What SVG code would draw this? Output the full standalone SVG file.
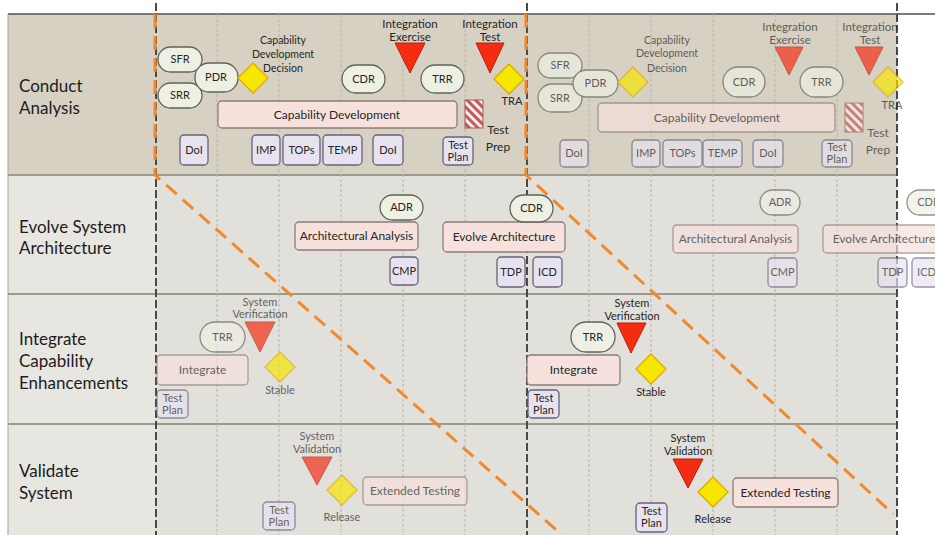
<svg xmlns="http://www.w3.org/2000/svg" width="935" height="535" viewBox="0 0 935 535">
<style>
text{font-family:Lato,"Open Sans","Liberation Sans",sans-serif;fill:#262626;text-anchor:middle}
.title{font-size:17px;text-anchor:start;fill:#1c1c1c}
.lbl{font-size:11px}
.sm{font-size:10.5px}
.md{font-size:12px}
.hd{font-size:11.5px}
.pill{fill:#eef0e3;stroke:#5e6457;stroke-width:1.3}
.box{fill:#f6e1dd;stroke:#8e7b77;stroke-width:1.3}
.doc{fill:#e6e2ef;stroke:#67637a;stroke-width:1.3}
.tri{fill:#f32c12;stroke:#b5200c;stroke-width:1}
.dia{fill:#f7e600;stroke:#e3a800;stroke-width:1.3}
.grid{stroke:#b8b4aa;stroke-width:1;stroke-dasharray:3 2}
.vdash{stroke:#4a4a40;stroke-width:2;stroke-dasharray:8 3}
.lane{stroke:#9c998f;stroke-width:2}
.orange{fill:none;stroke:#f0892e;stroke-width:3;stroke-dasharray:14 8}
.faded{opacity:0.68}
</style>
<defs>
<pattern id="hatch" width="6" height="6" patternUnits="userSpaceOnUse" patternTransform="rotate(-45)">
<rect width="6" height="6" fill="#fbeeee"/><rect width="3" height="6" fill="#c45a58"/>
</pattern>
</defs>
<rect width="935" height="535" fill="#ffffff"/>
<g id="lanes">
<rect x="8" y="14" width="889" height="161" fill="#d7d1c3"/>
<rect x="8" y="175" width="147" height="360" fill="#e8e6e1"/>
<rect x="155" y="175" width="742" height="360" fill="#e2e0da"/>
<line x1="8" y1="14" x2="8" y2="535" stroke="#a6a398" stroke-width="1"/>
<line x1="8" y1="14" x2="935" y2="14" stroke="#505050" stroke-width="1.5"/>
<line class="lane" x1="8" y1="175" x2="897" y2="175"/>
<line class="lane" x1="8" y1="294" x2="897" y2="294"/>
<line class="lane" x1="8" y1="424" x2="897" y2="424"/>
<g class="grid-lines">
<line class="grid" x1="217" y1="14" x2="217" y2="535"/>
<line class="grid" x1="279" y1="14" x2="279" y2="535"/>
<line class="grid" x1="341" y1="14" x2="341" y2="535"/>
<line class="grid" x1="403" y1="14" x2="403" y2="535"/>
<line class="grid" x1="465" y1="14" x2="465" y2="535"/>
<line class="grid" x1="589" y1="14" x2="589" y2="535"/>
<line class="grid" x1="651" y1="14" x2="651" y2="535"/>
<line class="grid" x1="713" y1="14" x2="713" y2="535"/>
<line class="grid" x1="775" y1="14" x2="775" y2="535"/>
<line class="grid" x1="837" y1="14" x2="837" y2="535"/>
</g>
<line class="vdash" x1="156" y1="3" x2="156" y2="535"/>
<line class="vdash" x1="527" y1="3" x2="527" y2="535"/>
<line class="vdash" x1="897" y1="3" x2="897" y2="535"/>
<text class="title" x="19" y="92">Conduct</text>
<text class="title" x="19" y="114">Analysis</text>
<text class="title" x="19" y="233">Evolve System</text>
<text class="title" x="19" y="254">Architecture</text>
<text class="title" x="19" y="345">Integrate</text>
<text class="title" x="19" y="367">Capability</text>
<text class="title" x="19" y="389">Enhancements</text>
<text class="title" x="19" y="477">Validate</text>
<text class="title" x="19" y="499">System</text>
</g>
<g id="connectors">
<path class="orange" d="M155,14 V175 L562,535"/>
<path class="orange" d="M526,14 V175 L893,514"/>
</g>
<g id="lane1-block1">
<g id="sfr1"><rect class="pill" x="158" y="47" width="44" height="25" rx="12.5"/><text class="lbl" x="180" y="63">SFR</text></g>
<g id="srr1"><rect class="pill" x="158" y="83" width="44" height="25" rx="12.5"/><text class="lbl" x="180" y="99">SRR</text></g>
<g id="pdr1"><rect class="pill" x="195" y="63" width="43" height="29" rx="14"/><text class="lbl" x="216" y="81">PDR</text></g>
<g id="cdd1"><polygon class="dia" points="253,63 268,78 253,93 238,78"/>
<text class="sm" x="283" y="44">Capability</text><text class="sm" x="283" y="58">Development</text><text class="sm" x="283" y="72">Decision</text></g>
<g id="capdev1"><rect class="box" x="218" y="101" width="239" height="27" rx="4"/><text class="md" x="337" y="119">Capability Development</text></g>
<g id="doi1a"><rect class="doc" x="180" y="135" width="28" height="30" rx="4"/><text class="lbl" x="194" y="154">DoI</text></g>
<g id="imp1"><rect class="doc" x="252" y="135" width="28" height="30" rx="4"/><text class="lbl" x="266" y="154">IMP</text></g>
<g id="tops1"><rect class="doc" x="283" y="135" width="37" height="30" rx="4"/><text class="lbl" x="301.5" y="154">TOPs</text></g>
<g id="temp1"><rect class="doc" x="323" y="135" width="39" height="30" rx="4"/><text class="lbl" x="342.5" y="154">TEMP</text></g>
<g id="doi1b"><rect class="doc" x="373" y="135" width="30" height="30" rx="4"/><text class="lbl" x="388" y="154">DoI</text></g>
<g id="testplan1"><rect class="doc" x="443" y="137" width="30" height="28" rx="4"/><text class="lbl" x="458" y="149">Test</text><text class="lbl" x="458" y="161">Plan</text></g>
<g id="cdr1"><rect class="pill" x="342" y="65" width="43" height="28" rx="14"/><text class="lbl" x="363.5" y="83">CDR</text></g>
<g id="ie1"><text class="hd" x="410" y="28">Integration</text><text class="hd" x="410" y="41">Exercise</text><polygon class="tri" points="395,43 425,43 410,73"/></g>
<g id="trr1"><rect class="pill" x="421" y="65" width="43" height="28" rx="14"/><text class="lbl" x="442.5" y="83">TRR</text></g>
<g id="it1"><text class="hd" x="490" y="28">Integration</text><text class="hd" x="490" y="41">Test</text><polygon class="tri" points="476,43 504,43 490,73"/></g>
<g id="tra1"><polygon class="dia" points="509,64 524,79 509,94 494,79"/><text class="lbl" x="512" y="105">TRA</text></g>
<g id="prep1"><rect x="465" y="100" width="18" height="28" fill="url(#hatch)" stroke="#a85a58" stroke-width="1"/><text class="md" x="498" y="134">Test</text><text class="md" x="498" y="151">Prep</text></g>
</g>
<g id="lane1-block2" class="faded">
<g id="sfr2"><rect class="pill" x="538" y="53" width="44" height="25" rx="12.5"/><text class="lbl" x="560" y="69">SFR</text></g>
<g id="srr2"><rect class="pill" x="538" y="84" width="44" height="28" rx="14"/><text class="lbl" x="560" y="102">SRR</text></g>
<g id="pdr2"><rect class="pill" x="573" y="70" width="45" height="27" rx="13.5"/><text class="lbl" x="595.5" y="87">PDR</text></g>
<g id="cdd2"><polygon class="dia" points="633,67 648,82 633,97 618,82"/>
<text class="sm" x="667" y="44">Capability</text><text class="sm" x="667" y="57">Development</text><text class="sm" x="667" y="72">Decision</text></g>
<g id="capdev2"><rect class="box" x="598" y="103" width="237" height="29" rx="4"/><text class="md" x="717" y="122">Capability Development</text></g>
<g id="doi2a"><rect class="doc" x="560" y="140" width="28" height="27" rx="4"/><text class="lbl" x="574" y="157">DoI</text></g>
<g id="imp2"><rect class="doc" x="632" y="140" width="28" height="27" rx="4"/><text class="lbl" x="646" y="157">IMP</text></g>
<g id="tops2"><rect class="doc" x="663" y="140" width="39" height="27" rx="4"/><text class="lbl" x="682.5" y="157">TOPs</text></g>
<g id="temp2"><rect class="doc" x="703" y="140" width="39" height="27" rx="4"/><text class="lbl" x="722.5" y="157">TEMP</text></g>
<g id="doi2b"><rect class="doc" x="753" y="140" width="30" height="27" rx="4"/><text class="lbl" x="768" y="157">DoI</text></g>
<g id="testplan2"><rect class="doc" x="822" y="140" width="30" height="27" rx="4"/><text class="lbl" x="837" y="151">Test</text><text class="lbl" x="837" y="163">Plan</text></g>
<g id="cdr2"><rect class="pill" x="723" y="67" width="42" height="30" rx="15"/><text class="lbl" x="744" y="86">CDR</text></g>
<g id="ie2"><text class="hd" x="790" y="31">Integration</text><text class="hd" x="790" y="44">Exercise</text><polygon class="tri" points="775,47 803,47 789,75"/></g>
<g id="trr2"><rect class="pill" x="800" y="67" width="43" height="30" rx="15"/><text class="lbl" x="821.5" y="86">TRR</text></g>
<g id="it2"><text class="hd" x="870" y="31">Integration</text><text class="hd" x="870" y="44">Test</text><polygon class="tri" points="855,47 883,47 869,75"/></g>
<g id="tra2"><polygon class="dia" points="888,67 903,82 888,97 873,82"/><text class="lbl" x="892" y="109">TRA</text></g>
<g id="prep2"><rect x="845" y="103" width="18" height="29" fill="url(#hatch)" stroke="#a85a58" stroke-width="1"/><text class="md" x="878" y="137">Test</text><text class="md" x="878" y="154">Prep</text></g>
</g>
<g id="lane2-block1">
<g id="adr1"><rect class="pill" x="380" y="195" width="43" height="25" rx="12.5"/><text class="lbl" x="401.5" y="211">ADR</text></g>
<g id="archan1"><rect class="box" x="295" y="222" width="123" height="28" rx="4"/><text class="md" x="356.5" y="240">Architectural Analysis</text></g>
<g id="cmp1"><rect class="doc" x="390" y="257" width="28" height="28" rx="4"/><text class="lbl" x="404" y="275">CMP</text></g>
<g id="evarch1"><rect class="box" x="443" y="222" width="122" height="30" rx="4"/><text class="md" x="504" y="241">Evolve Architecture</text></g>
<g id="cdr3"><rect class="pill" x="510" y="195" width="43" height="27" rx="13.5"/><text class="lbl" x="531.5" y="212">CDR</text></g>
<g id="tdp1"><rect class="doc" x="497" y="257" width="28" height="30" rx="4"/><text class="lbl" x="511" y="276">TDP</text></g>
<g id="icd1"><rect class="doc" x="533" y="257" width="29" height="30" rx="4"/><text class="lbl" x="547.5" y="276">ICD</text></g>
</g>
<g id="lane2-block2" class="faded">
<g id="adr2"><rect class="pill" x="760" y="190" width="40" height="25" rx="12.5"/><text class="lbl" x="780" y="206">ADR</text></g>
<g id="archan2"><rect class="box" x="673" y="225" width="125" height="28" rx="4"/><text class="md" x="735.5" y="243">Architectural Analysis</text></g>
<g id="cmp2"><rect class="doc" x="768" y="258" width="29" height="29" rx="4"/><text class="lbl" x="782.5" y="276">CMP</text></g>
<g id="evarch2"><rect class="box" x="823" y="225" width="122" height="28" rx="4"/><text class="md" x="884" y="243">Evolve Architecture</text></g>
<g id="cdr4"><rect class="pill" x="907" y="190" width="43" height="25" rx="12.5"/><text class="lbl" x="928.5" y="206">CDR</text></g>
<g id="tdp2"><rect class="doc" x="878" y="258" width="29" height="29" rx="4"/><text class="lbl" x="892.5" y="276">TDP</text></g>
<g id="icd2"><rect class="doc" x="912" y="258" width="29" height="29" rx="4"/><text class="lbl" x="926.5" y="276">ICD</text></g>
</g>
<g id="lane3-block1" class="faded">
<g id="sv1"><text class="lbl" x="260" y="306">System</text><text class="lbl" x="260" y="318">Verification</text><polygon class="tri" points="245,322 275,322 260,352"/></g>
<g id="trr3"><rect class="pill" x="200" y="322" width="45" height="30" rx="15"/><text class="lbl" x="222.5" y="341">TRR</text></g>
<g id="integ1"><rect class="box" x="157" y="355" width="91" height="30" rx="4"/><text class="md" x="202.5" y="374">Integrate</text></g>
<g id="stable1"><polygon class="dia" points="280,352 295,367 280,382 265,367"/><text class="lbl" x="280" y="394">Stable</text></g>
<g id="testplan3"><rect class="doc" x="157" y="390" width="31" height="28" rx="4"/><text class="lbl" x="172.5" y="402">Test</text><text class="lbl" x="172.5" y="414">Plan</text></g>
</g>
<g id="lane3-block2">
<g id="sv2"><text class="lbl" x="632" y="307">System</text><text class="lbl" x="632" y="320">Verification</text><polygon class="tri" points="617,323 646,323 631,353"/></g>
<g id="trr4"><rect class="pill" x="571" y="322" width="44" height="30" rx="15"/><text class="lbl" x="593" y="341">TRR</text></g>
<g id="integ2"><rect class="box" x="527" y="355" width="93" height="30" rx="4"/><text class="md" x="573.5" y="374">Integrate</text></g>
<g id="stable2"><polygon class="dia" points="651,354 666,369 651,384 636,369"/><text class="lbl" x="651" y="396">Stable</text></g>
<g id="testplan4"><rect class="doc" x="528" y="390" width="31" height="28" rx="4"/><text class="lbl" x="543.5" y="402">Test</text><text class="lbl" x="543.5" y="414">Plan</text></g>
</g>
<g id="lane4-block1" class="faded">
<g id="sval1"><text class="lbl" x="317" y="440">System</text><text class="lbl" x="317" y="453">Validation</text><polygon class="tri" points="302,457 332,457 317,485"/></g>
<g id="rel1"><polygon class="dia" points="342,475 357,490 342,505 327,490"/><text class="lbl" x="342" y="521">Release</text></g>
<g id="ext1"><rect class="box" x="363" y="477" width="104" height="28" rx="4"/><text class="md" x="415" y="495">Extended Testing</text></g>
<g id="testplan5"><rect class="doc" x="263" y="502" width="32" height="28" rx="4"/><text class="lbl" x="279" y="514">Test</text><text class="lbl" x="279" y="526">Plan</text></g>
</g>
<g id="lane4-block2">
<g id="sval2"><text class="lbl" x="688" y="442">System</text><text class="lbl" x="688" y="455">Validation</text><polygon class="tri" points="673,459 703,459 688,488"/></g>
<g id="rel2"><polygon class="dia" points="713,477 728,492 713,507 698,492"/><text class="lbl" x="713" y="523">Release</text></g>
<g id="ext2"><rect class="box" x="733" y="478" width="105" height="29" rx="4"/><text class="md" x="785.5" y="497">Extended Testing</text></g>
<g id="testplan6"><rect class="doc" x="636" y="503" width="31" height="29" rx="4"/><text class="lbl" x="651.5" y="515">Test</text><text class="lbl" x="651.5" y="527">Plan</text></g>
</g>
</svg>
